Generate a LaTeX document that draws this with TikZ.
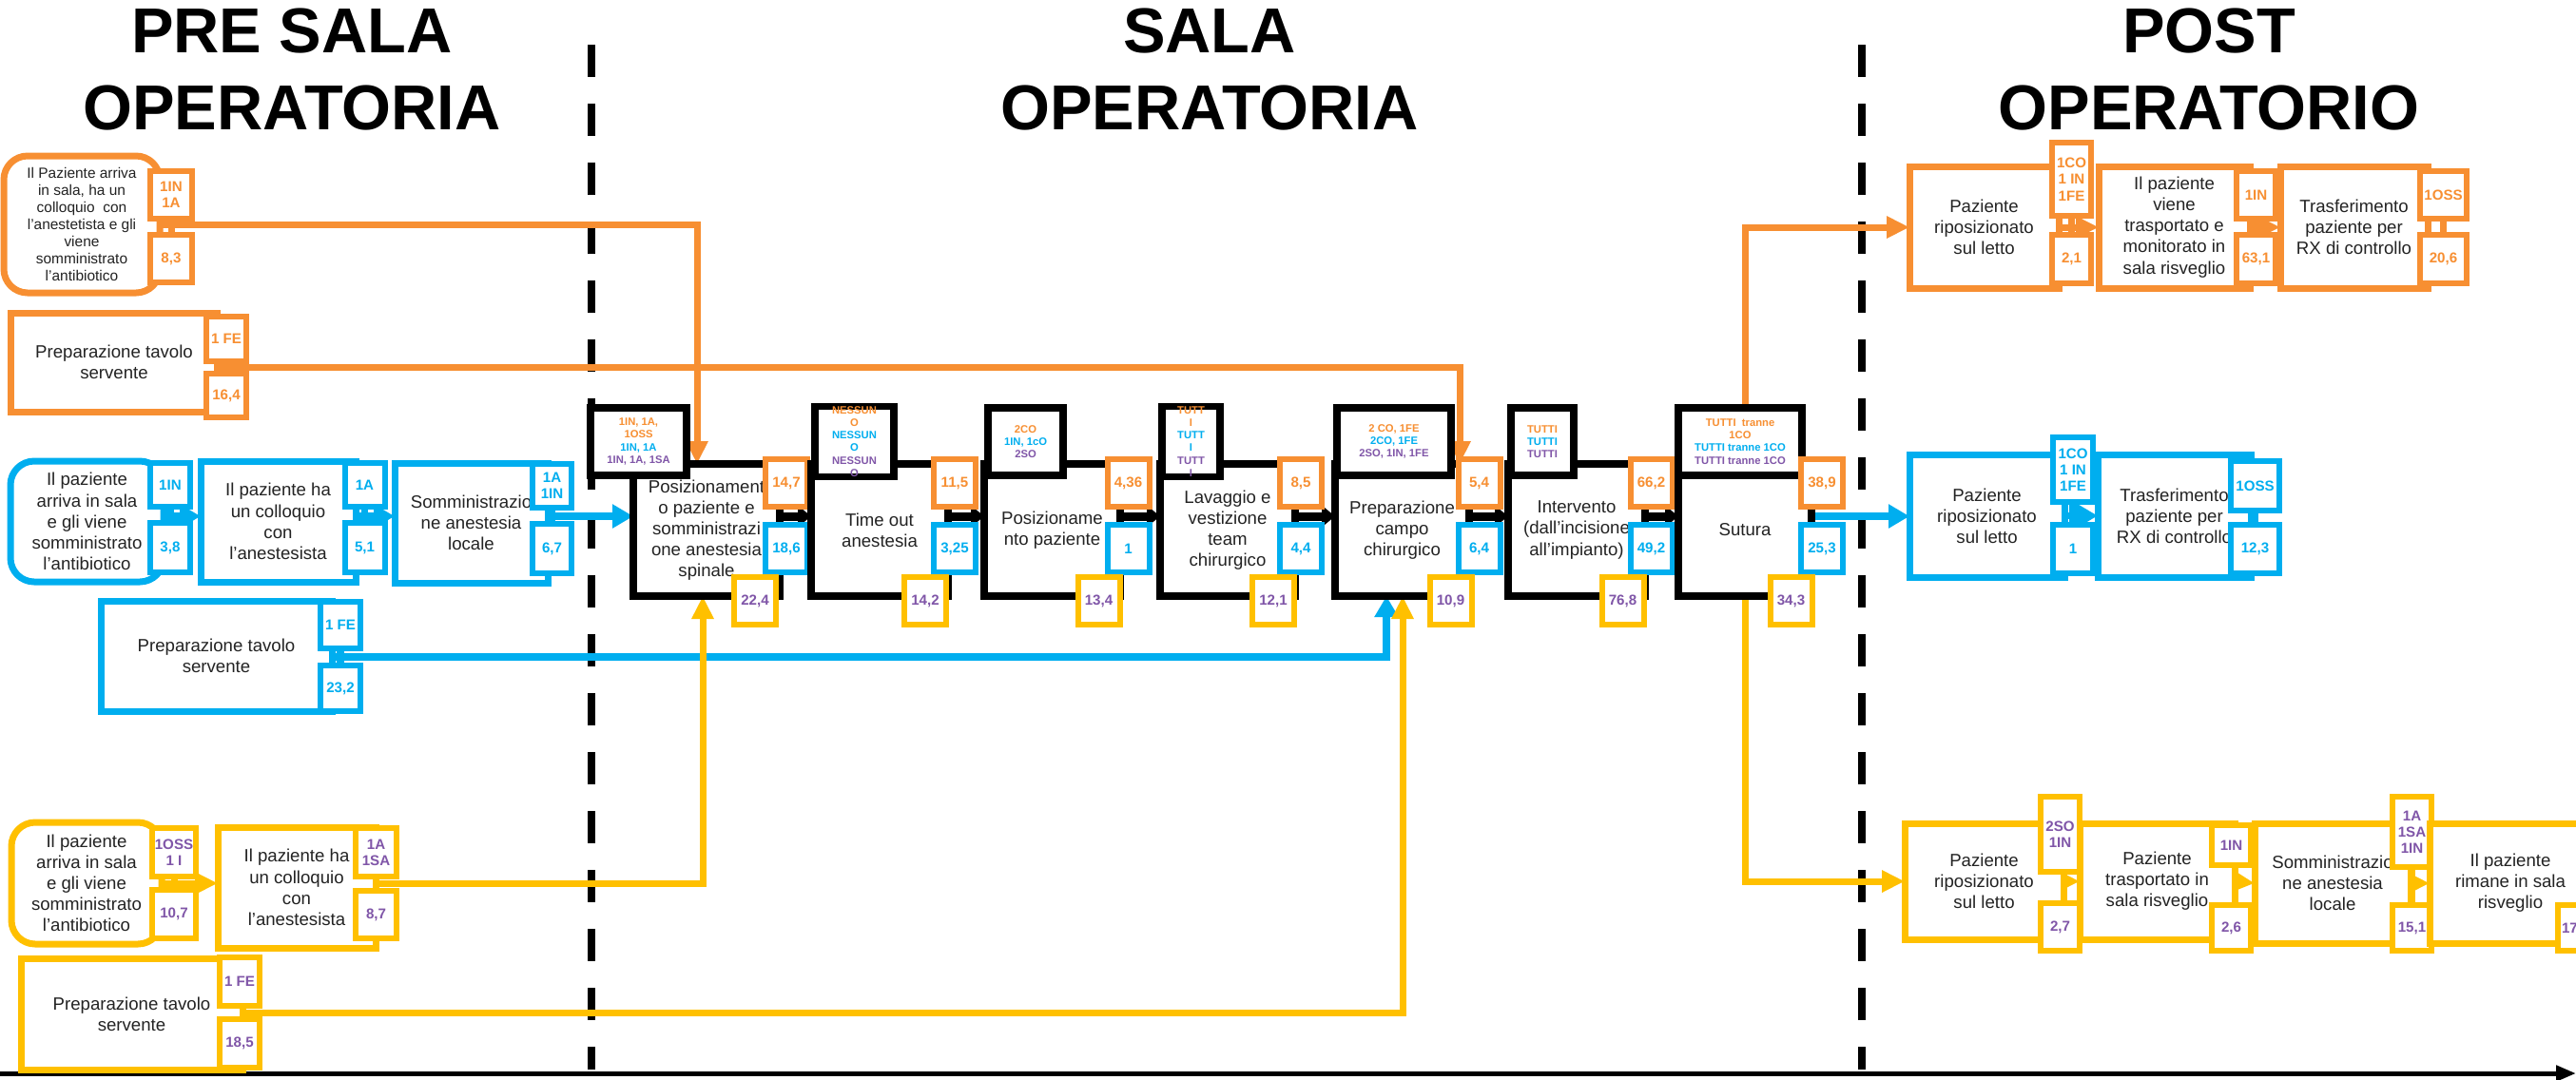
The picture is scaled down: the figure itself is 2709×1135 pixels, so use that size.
\documentclass[tikz,border=0pt]{standalone}
\usepackage{fontspec}
\setmainfont{Liberation Sans}
\usetikzlibrary{arrows.meta,calc}
\definecolor{cor}{RGB}{247,143,50}
\definecolor{cbl}{RGB}{0,174,239}
\definecolor{cye}{RGB}{255,192,0}
\definecolor{cpu}{RGB}{128,86,168}
\definecolor{ctx}{RGB}{35,35,35}
\pgfdeclarelayer{bg}
\pgfsetlayers{bg,main}
\newcommand\fsmain{\fontsize{5.3}{6.3}\selectfont}
\newcommand\fssmall{\fontsize{4.4}{5.1}\selectfont}
\newcommand\fslab{\bfseries\fontsize{4.3}{4.9}\selectfont}
\newcommand\fswho{\bfseries\fontsize{3.2}{3.75}\selectfont}
\newcommand\fstitle{\bfseries\fontsize{19}{23.3}\selectfont}
\newcommand\orT[1]{\textcolor{cor}{#1}}
\newcommand\blT[1]{\textcolor{cbl}{#1}}
\newcommand\puT[1]{\textcolor{cpu}{#1}}
\tikzset{
 sz/.style 2 args={minimum width=#1*0.1mm, minimum height=#2*0.1mm},
 base/.style={inner sep=0pt, outer sep=0pt, align=center, fill=white},
 obox/.style={base, draw=cor, line width=0.7mm, text=ctx, font=\fsmain},
 bbox/.style={base, draw=cbl, line width=0.7mm, text=ctx, font=\fsmain},
 ybox/.style={base, draw=cye, line width=0.7mm, text=ctx, font=\fsmain},
 olab/.style={base, draw=cor, line width=0.6mm, text=cor, font=\fslab},
 blab/.style={base, draw=cbl, line width=0.6mm, text=cbl, font=\fslab},
 ylab/.style={base, draw=cye, line width=0.6mm, text=cpu, font=\fslab},
 stepbox/.style={base, draw=black, line width=0.75mm, text=ctx, font=\fsmain},
 whobox/.style={base, draw=black, line width=0.75mm, font=\fswho},
 onum/.style={olab, sz={44}{50}},
 bnum/.style={blab, sz={44}{50}},
 ynum/.style={ylab, sz={44}{50}},
 ttl/.style={align=center, font=\fstitle, inner sep=0pt},
 oline/.style={draw=cor, line width=0.7mm},
 bline/.style={draw=cbl, line width=0.75mm},
 yline/.style={draw=cye, line width=0.7mm},
 oarr/.style={oline, -{Triangle[length=2.4mm,width=2.2mm]}},
 barr/.style={bline, -{Triangle[length=2.2mm,width=2.4mm]}},
 yarr/.style={yline, -{Triangle[length=2.4mm,width=2.2mm]}},
 karr/.style={draw=black, line width=0.9mm, -{Triangle[length=1.4mm,width=2.2mm]}},
 phase/.style={draw=black, line width=0.85mm, dash pattern=on 3.4mm off 2.8mm},
}
\begin{document}
\begin{tikzpicture}[x=0.1mm,y=-0.1mm]
\useasboundingbox (0,0) rectangle (2709,1135);
\clip (0,0) rectangle (2709,1135);
\coordinate (arow) at (0,543);

% titles
\node[ttl] (t1) at (307,73) {PRE SALA\\OPERATORIA};
\node[ttl] (t2) at (1272,73) {SALA\\OPERATORIA};
\node[ttl] (t3) at (2323,73) {POST\\OPERATORIO};

% ---------- pre: orange
\node[obox, rounded corners=2.5mm, sz={164}{144}, font=\fssmall] (o1) at (86,236) {Il Paziente arriva\\in sala, ha un\\colloquio\ \ con\\l'anestetista e gli\\viene\\somministrato\\l'antibiotico};
\node[olab, sz={44}{50}] (o1a) at (180,205) {1IN\\1A};
\node[olab, sz={44}{50}] (o1b) at (180,272) {8,3};
\node[obox, sz={217}{104}] (o2) at (120,381) {Preparazione tavolo\\servente};
\node[olab, sz={42}{47}] (o2a) at (238,356) {1 FE};
\node[olab, sz={42}{46}] (o2b) at (238,416) {16,4};

% ---------- pre: blue
\node[bbox, rounded corners=2.5mm, sz={161}{127}] (b1) at (91.5,548.5) {Il paziente\\arriva in sala\\e gli viene\\somministrato\\l'antibiotico};
\node[blab, sz={42}{46}] (b1a) at (179,510) {1IN};
\node[blab, sz={42}{52}] (b1b) at (179,576) {3,8};
\node[bbox, sz={163}{127}] (b2) at (292.5,548.5) {Il paziente ha\\un colloquio\\con\\l'anestesista};
\node[blab, sz={42}{46}] (b2a) at (383.5,510) {1A};
\node[blab, sz={42}{52}] (b2b) at (383.5,576) {5,1};
\node[bbox, sz={161}{126}] (b3) at (495.5,550) {Somministrazio\\ne anestesia\\locale};
\node[blab, sz={41}{46}] (b3a) at (580.5,511) {1A\\1IN};
\node[blab, sz={41}{52}] (b3b) at (580.5,577) {6,7};
\node[bbox, sz={243}{116}] (b4) at (227.5,690) {Preparazione tavolo\\servente};
\node[blab, sz={42}{49}] (b4a) at (358,657.5) {1 FE};
\node[blab, sz={42}{48}] (b4b) at (358,724) {23,2};

% ---------- pre: yellow
\node[ybox, rounded corners=2.5mm, sz={158}{128}] (y1) at (91,929) {Il paziente\\arriva in sala\\e gli viene\\somministrato\\l'antibiotico};
\node[ylab, sz={46}{51}] (y1a) at (183,896.5) {1OSS\\1 I};
\node[ylab, sz={46}{51}] (y1b) at (183,961.5) {10,7};
\node[ybox, sz={166}{127}] (y2) at (312,933.5) {Il paziente ha\\un colloquio\\con\\l'anestesista};
\node[ylab, sz={43}{51}] (y2a) at (395.5,896.5) {1A\\1SA};
\node[ylab, sz={43}{50}] (y2b) at (395.5,962) {8,7};
\node[ybox, sz={233}{117}] (y3) at (138.5,1066.5) {Preparazione tavolo\\servente};
\node[ylab, sz={42}{51}] (y3a) at (252,1032.5) {1 FE};
\node[ylab, sz={42}{51}] (y3b) at (252,1097.5) {18,5};

% ---------- sala operatoria
\node[stepbox, sz={154}{139}] (s1) at (743,557.5) {Posizionament\\o paziente e\\somministrazi\\one anestesia\\spinale};
\node[whobox, sz={101}{71}] (s1w) at (671.5,464.5) {\orT{1IN, 1A,}\\\orT{1OSS}\\\blT{1IN, 1A}\\\puT{1IN, 1A, 1SA}};
\node[onum] (s1o) at (827,508) {14,7};
\node[bnum] (s1b) at (827,577) {18,6};
\node[ynum] (s1y) at (794,632) {22,4};

\node[stepbox, sz={144}{139}] (s2) at (925,557.5) {Time out\\anestesia};
\node[whobox, sz={83}{71}] (s2w) at (898.5,464.5) {\orT{NESSUN}\\\orT{O}\\\blT{NESSUN}\\\blT{O}\\\puT{NESSUN}\\\puT{O}};
\node[onum] (s2o) at (1004,508) {11,5};
\node[bnum] (s2b) at (1004,577) {3,25};
\node[ynum] (s2y) at (973,632) {14,2};

\node[stepbox, sz={143}{139}] (s3) at (1106.5,557.5) {Posizioname\\nto paziente};
\node[whobox, sz={79}{71}] (s3w) at (1078.5,464.5) {\orT{2CO}\\\blT{1IN, 1cO}\\\puT{2SO}};
\node[onum] (s3o) at (1186.5,508) {4,36};
\node[bnum] (s3b) at (1186.5,577) {1};
\node[ynum] (s3y) at (1155.5,632) {13,4};

\node[stepbox, sz={142}{139}] (s4) at (1291,557.5) {Lavaggio e\\vestizione\\team\\chirurgico};
\node[whobox, sz={61}{71}] (s4w) at (1252.5,464.5) {\orT{TUTT}\\\orT{I}\\\blT{TUTT}\\\blT{I}\\\puT{TUTT}\\\puT{I}};
\node[onum] (s4o) at (1368,508) {8,5};
\node[bnum] (s4b) at (1368,577) {4,4};
\node[ynum] (s4y) at (1339,632) {12,1};

\node[stepbox, sz={141}{139}] (s5) at (1474.5,557.5) {Preparazione\\campo\\chirurgico};
\node[whobox, sz={120}{71}] (s5w) at (1466,464.5) {\orT{2 CO, 1FE}\\\blT{2CO, 1FE}\\\puT{2SO, 1IN, 1FE}};
\node[onum] (s5o) at (1555.5,508) {5,4};
\node[bnum] (s5b) at (1555.5,577) {6,4};
\node[ynum] (s5y) at (1525.5,632) {10,9};

\node[stepbox, sz={144}{139}] (s6) at (1658,557.5) {Intervento\\(dall'incisione\\all'impianto)};
\node[whobox, sz={66}{71}] (s6w) at (1622,464.5) {\orT{TUTTI}\\\blT{TUTTI}\\\puT{TUTTI}};
\node[onum] (s6o) at (1736.5,508) {66,2};
\node[bnum] (s6b) at (1736.5,577) {49,2};
\node[ynum] (s6y) at (1706.5,632) {76,8};

\node[stepbox, sz={140}{139}] (s7) at (1835,557.5) {Sutura};
\node[whobox, sz={130}{71}] (s7w) at (1830,464.5) {\orT{TUTTI\ \ tranne}\\\orT{1CO}\\\blT{TUTTI tranne 1CO}\\\puT{TUTTI tranne 1CO}};
\node[onum] (s7o) at (1916,508) {38,9};
\node[bnum] (s7b) at (1916,577) {25,3};
\node[ynum] (s7y) at (1883.5,632) {34,3};

% ---------- post: orange
\node[obox, sz={157}{128}] (p1) at (2086.5,239) {Paziente\\riposizionato\\sul letto};
\node[olab, sz={41}{77}] (p1a) at (2178.5,188.5) {1CO\\1 IN\\1FE};
\node[olab, sz={41}{51}] (p1b) at (2178.5,272.5) {2,1};
\node[obox, sz={159}{128}] (p2) at (2286.5,239) {Il paziente\\viene\\trasportato e\\monitorato in\\sala risveglio};
\node[olab, sz={41}{50}] (p2a) at (2372.5,205) {1IN};
\node[olab, sz={41}{51}] (p2b) at (2372.5,272.5) {63,1};
\node[obox, sz={155}{128}] (p3) at (2475.5,239) {Trasferimento\\paziente per\\RX di controllo};
\node[olab, sz={49}{50}] (p3a) at (2569.5,205) {1OSS};
\node[olab, sz={49}{51}] (p3b) at (2569.5,272.5) {20,6};

% ---------- post: blue
\node[bbox, sz={163}{129}] (q1) at (2089.5,542.5) {Paziente\\riposizionato\\sul letto};
\node[blab, sz={42}{68}] (q1a) at (2180,494) {1CO\\1 IN\\1FE};
\node[blab, sz={42}{51}] (q1b) at (2180,577.5) {1};
\node[bbox, sz={161}{129}] (q2) at (2286.5,542.5) {Trasferimento\\paziente per\\RX di controllo};
\node[blab, sz={51}{52}] (q2a) at (2371.5,511) {1OSS};
\node[blab, sz={51}{51}] (q2b) at (2371.5,577.5) {12,3};

% ---------- post: yellow
\node[ybox, sz={167}{122}] (r1) at (2086.5,927) {Paziente\\riposizionato\\sul letto};
\node[ylab, sz={41}{79}] (r1a) at (2166.5,877.5) {2SO\\1IN};
\node[ylab, sz={41}{50}] (r1b) at (2166.5,975) {2,7};
\node[ybox, sz={163}{122}] (r2) at (2268.5,927) {Paziente\\trasportato in\\sala risveglio};
\node[ylab, sz={41}{42}] (r2a) at (2346.5,889) {1IN};
\node[ylab, sz={41}{48}] (r2b) at (2346.5,976) {2,6};
\node[ybox, sz={164}{126}] (r3) at (2453,929) {Somministrazio\\ne anestesia\\locale};
\node[ylab, sz={41}{74}] (r3a) at (2536.5,875) {1A\\1SA\\1IN};
\node[ylab, sz={41}{48}] (r3b) at (2536.5,976) {15,1};
\node[ybox, sz={170}{126}] (r4) at (2640,929) {Il paziente\\rimane in sala\\risveglio};
\node[ylab, sz={42}{48}] (r4b) at (2711,976) {\makebox[3.4mm][l]{17}};

% ---------- connectors (behind boxes)
\begin{pgfonlayer}{bg}
\fill[white] (0,0) rectangle (2709,1135);
\draw[phase] (622,47) -- (622,1125);
\draw[phase] (1958,47) -- (1958,1125);
\draw[line width=0.5mm, -{Triangle[length=2.1mm,width=1.6mm]}] (0,1129) -- (2709,1129);

\foreach \a/\b in {o1a/o1b,o2a/o2b,p1a/p1b,p2a/p2b,p3a/p3b} \draw[oline] (\a) -- (\b);
\foreach \a/\b in {b1a/b1b,b2a/b2b,b3a/b3b,b4a/b4b,q1a/q1b,q2a/q2b} \draw[bline] (\a) -- (\b);
\foreach \a/\b in {y1a/y1b,y2a/y2b,y3a/y3b,r1a/r1b,r2a/r2b,r3a/r3b} \draw[yline] (\a) -- (\b);

\coordinate (o2m) at ($(o2a.south)!.5!(o2b.north)$);
\coordinate (b4m) at ($(b4a.south)!.5!(b4b.north)$);
\coordinate (y2m) at ($(y2a.south)!.5!(y2b.north)$);
\coordinate (y3m) at ($(y3a.south)!.5!(y3b.north)$);

\draw[oarr] (o1.east) -| ([xshift=6.7mm]s1.north west);
\draw[oarr] (o2.east |- o2m) -| ([xshift=-1mm]s5.north east);
\draw[barr] (b4.east |- b4m) -| ([xshift=5.4mm]s5.south west);
\draw[yarr] (y2.east |- y2m) -| ([xshift=7.3mm]s1.south west);
\draw[yarr] (y3.east |- y3m) -| ([xshift=7.1mm]s5.south west);

\draw[barr] (b1.east |- arow) -- (b2.west |- arow);
\draw[barr] (b2.east |- arow) -- (b3.west |- arow);
\draw[barr] (b3.east |- arow) -- (s1.west |- arow);
\draw[yarr] (y1.east) -- (y2.west |- y1.east);

\draw[karr] (s1.east |- arow) -- (s2.west |- arow);
\draw[karr] (s2.east |- arow) -- (s3.west |- arow);
\draw[karr] (s3.east |- arow) -- (s4.west |- arow);
\draw[karr] (s4.east |- arow) -- (s5.west |- arow);
\draw[karr] (s5.east |- arow) -- (s6.west |- arow);
\draw[karr] (s6.east |- arow) -- (s7.west |- arow);

\draw[barr] (s7.east |- arow) -- (q1.west |- arow);
\draw[oarr] (s7.north |- s7w.north) |- (p1.west);
\draw[yarr] (s7.south) |- (r1.west);

\draw[oarr] (p1.east) -- (p2.west);
\draw[oarr] (p2.east) -- (p3.west);
\draw[barr] (q1.east) -- (q2.west);
\draw[yarr] (r1.east) -- (r2.west);
\draw[yarr] (r2.east) -- (r3.west);
\draw[yarr] (r3.east) -- (r4.west);
\end{pgfonlayer}
\end{tikzpicture}
\end{document}
